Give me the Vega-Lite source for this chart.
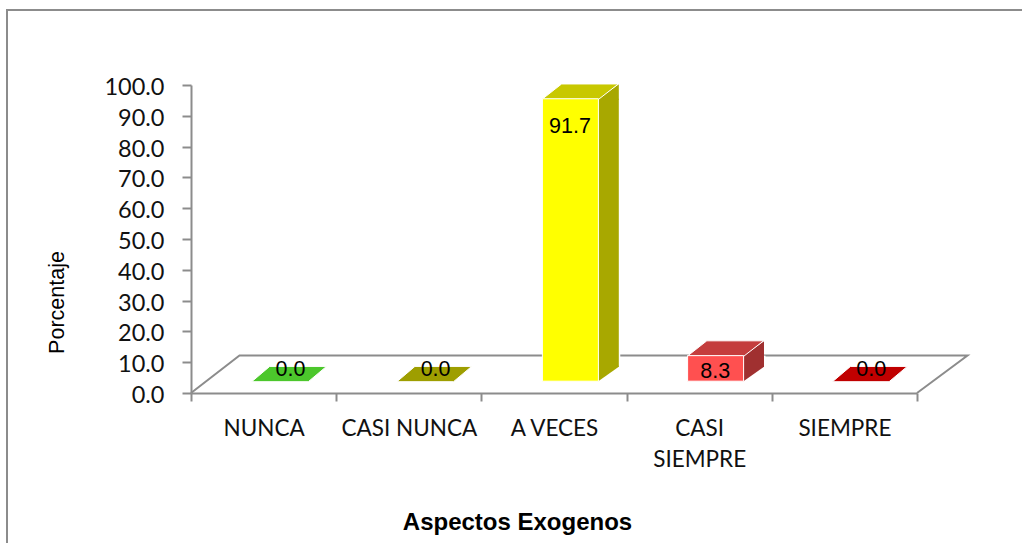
{
"$schema":"https://vega.github.io/schema/vega-lite/v6.json",
"width":726,"height":308,
"autosize":{"type":"none"},
"padding":{"left":191,"top":85,"right":105,"bottom":150},
"background":"white",
"config":{"view":{"stroke":null}},
"data":{"values":[
{"categoria":"NUNCA","valor":0.0},
{"categoria":"CASI NUNCA","valor":0.0},
{"categoria":"A VECES","valor":91.7},
{"categoria":"CASI SIEMPRE","valor":8.3},
{"categoria":"SIEMPRE","valor":0.0}
]},
"encoding":{
"x":{"field":"categoria","type":"nominal","title":"Aspectos Exogenos",
"scale":{"domain":["NUNCA","CASI NUNCA","A VECES","CASI SIEMPRE","SIEMPRE"],"paddingInner":0,"paddingOuter":0},
"axis":{"tickBand":"extent","labelAngle":0,"labelFont":"Lato","labelFontSize":22.5,"labelColor":"#111111","labelPadding":16,"labelLineHeight":31,"labelLimit":400,"labelOverlap":false,
"labelExpr":"datum.label == 'CASI SIEMPRE' ? ['CASI','SIEMPRE'] : datum.label",
"domainColor":"#8c8c8c","domainWidth":2,"tickColor":"#8c8c8c","tickWidth":2,"tickSize":8,"grid":false,
"titleFont":"Liberation Sans","titleFontSize":24,"titleFontWeight":"bold","titleColor":"#000000","titleX":326,"titleY":129,"titleBaseline":"middle"}},
"y":{"field":"valor","type":"quantitative","title":"Porcentaje",
"scale":{"domain":[0,100],"nice":false},
"axis":{"values":[0,10,20,30,40,50,60,70,80,90,100],"format":".1f","grid":false,"labelFont":"Lato","labelFontSize":23.5,"labelColor":"#111111","labelPadding":18,"labelOffset":2.5,
"domainColor":"#8c8c8c","domainWidth":2,"tickColor":"#8c8c8c","tickWidth":2,"tickSize":9,
"titleFont":"Liberation Sans","titleFontSize":21.5,"titleFontWeight":"normal","titleColor":"#000000","titleX":-134,"titleY":217,"titleBaseline":"middle","titleAlign":"center","titleAngle":-90}}
},
"layer":[
{"data":{"values":[{"categoria":"NUNCA","valor":0}]},
"mark":{"type":"point","shape":"M-256.6 160L-256.6 -383L768 -383","size":4,"fill":"transparent","stroke":"#8c8c8c","strokeWidth":2,"opacity":1}},
{"data":{"values":[{"categoria":"NUNCA","valor":0}]},
"mark":{"type":"point","shape":"M-72.6 0L-24.1 -37.5L703.9 -37.5L653.4 0","size":4,"fill":"transparent","stroke":"#8c8c8c","strokeWidth":2,"opacity":1}},
{"transform":[{"filter":"datum.valor > 0"}],
"mark":{"type":"bar","width":23.5,"color":"white","xOffset":54.55,"yOffset":-11.8,"y2Offset":-26.3},
"encoding":{"y2":{"datum":0}}},
{"transform":[{"filter":"datum.valor > 0"}],
"mark":{"type":"bar","width":20.5,"xOffset":54.55,"yOffset":-11.8,"y2Offset":-26.3},
"encoding":{"y2":{"datum":0},"color":{"field":"categoria","type":"nominal","legend":null,"scale":{"domain":["A VECES","CASI SIEMPRE"],"range":["#a8a800","#a03030"]}}}},
{"transform":[{"filter":"datum.valor > 0"}],
"mark":{"type":"point","filled":true,"opacity":1,"size":4,"shape":"M44.3 -11.8L64.8 -26.3L64.8 -10.8L44.3 -10.8Z"},
"encoding":{"color":{"field":"categoria","type":"nominal","legend":null,"scale":{"domain":["A VECES","CASI SIEMPRE"],"range":["#a8a800","#a03030"]}}}},
{"transform":[{"filter":"datum.valor > 0"}],
"mark":{"type":"point","filled":true,"opacity":1,"size":4,"shape":"M44.3 -11.8L64.8 -26.3L64.8 -27.3L44.3 -27.3Z"},
"encoding":{"y":{"datum":0},"color":{"field":"categoria","type":"nominal","legend":null,"scale":{"domain":["A VECES","CASI SIEMPRE"],"range":["#a8a800","#a03030"]}}}},
{"transform":[{"filter":"datum.valor > 0"}],
"mark":{"type":"point","filled":true,"opacity":1,"size":4,"stroke":"white","strokeWidth":1,"shape":"M-11.9 -11.3L44.7 -11.3L64.4 -26.6L7.6 -26.6Z"},
"encoding":{"color":{"field":"categoria","type":"nominal","legend":null,"scale":{"domain":["A VECES","CASI SIEMPRE"],"range":["#c8c800","#c43d3d"]}}}},
{"transform":[{"filter":"datum.valor == 0"}],
"mark":{"type":"point","filled":true,"opacity":1,"size":4,"stroke":"white","strokeWidth":1,"shape":"M-11.9 -11.3L44.7 -11.3L62.9 -26.6L6.1 -26.6Z"},
"encoding":{"color":{"field":"categoria","type":"nominal","legend":null,"scale":{"domain":["NUNCA","CASI NUNCA","SIEMPRE"],"range":["#4cc72c","#9e9e00","#c00000"]}}}},
{"transform":[{"filter":"datum.valor > 0"}],
"mark":{"type":"bar","width":56,"xOffset":16.4,"yOffset":-11.8,"y2Offset":-11.8,"stroke":"white","strokeWidth":1},
"encoding":{"y2":{"datum":0},"color":{"field":"categoria","type":"nominal","legend":null,"scale":{"domain":["A VECES","CASI SIEMPRE"],"range":["#ffff00","#ff5050"]}}}},
{"mark":{"type":"text","font":"Liberation Sans","fontSize":21.5,"color":"#000000","baseline":"middle","align":"center",
"dx":{"expr":"datum.valor == 0 ? 26.8 : 16"},
"dy":{"expr":"datum.valor == 0 ? -22.8 : (datum.valor > 50 ? 16 : 5)"}},
"encoding":{"text":{"field":"valor","type":"quantitative","format":".1f"}}}
],
"resolve":{"scale":{"color":"independent"}}
}
